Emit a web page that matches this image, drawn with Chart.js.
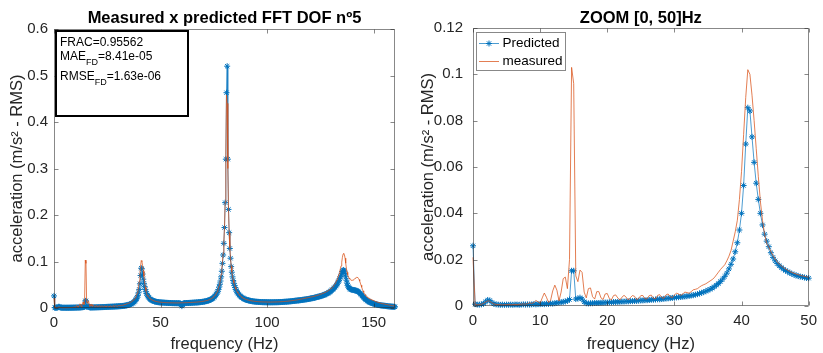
<!DOCTYPE html>
<html><head><meta charset="utf-8">
<script src="https://cdn.jsdelivr.net/npm/chart.js@4"></script>
<style>
html,body{margin:0;padding:0;background:#fff;}
#wrap{position:relative;width:823px;height:353px;overflow:hidden;background:#fff;}
canvas{position:absolute;top:0;}
</style></head><body>
<div id="wrap">
<canvas id="c1" width="411" height="353" style="left:0px"></canvas>
<canvas id="c2" width="412" height="353" style="left:411px"></canvas>
</div>
<script>
// ---- FFT bin spacing (Hz) ----
const binWidthHz = 0.3125;

// ---- Predicted spectrum, 0 .. 49.6875 Hz (16 bins per row = 5 Hz) ----
const predictedLow = [
0.026,0.0008,0.0006,0.0006,0.0007,0.001,0.0018,0.0026,0.0024,0.0015,0.0009,0.0007,0.0006,0.0005,0.0006,0.0005,
0.0006,0.0005,0.0006,0.0005,0.0006,0.0006,0.0005,0.0006,0.0007,0.0006,0.0007,0.0006,0.0007,0.0008,0.0007,0.0008,
0.0008,0.0009,0.0008,0.001,0.0009,0.0011,0.001,0.0012,0.0013,0.0015,0.0016,0.0018,0.002,0.0022,0.0028,0.0152,
0.0152,0.003,0.0032,0.0036,0.003,0.0018,0.0012,0.0011,0.0012,0.0012,0.0013,0.0013,0.0013,0.0014,0.0014,0.0015,
0.0015,0.0016,0.0016,0.0017,0.0017,0.0018,0.0018,0.0019,0.0019,0.002,0.002,0.0021,0.0021,0.0022,0.0022,0.0023,
0.0024,0.0024,0.0025,0.0025,0.0026,0.0027,0.0027,0.0028,0.0029,0.0029,0.003,0.0031,0.0032,0.0033,0.0034,0.0035,
0.0036,0.0037,0.0038,0.0039,0.004,0.0041,0.0042,0.0044,0.0045,0.0047,0.0049,0.0051,0.0054,0.0057,0.006,0.0064,
0.0068,0.0072,0.0077,0.0083,0.009,0.0097,0.0106,0.0116,0.0128,0.0142,0.016,0.018,0.0203,0.0234,0.0273,0.0328,
0.04,0.052,0.0699,0.0856,0.0842,0.073,0.062,0.053,0.046,0.04,0.035,0.031,0.028,0.0256,0.023,0.021,
0.0195,0.0183,0.0174,0.0166,0.0159,0.0153,0.0148,0.0143,0.0139,0.0135,0.0132,0.0129,0.0127,0.0125,0.0123,0.0121
];
// ---- Predicted spectrum, 50 .. 160 Hz ----
const predictedHigh = [
0.012,0.0119,0.0117,0.0116,0.0115,0.0114,0.0113,0.0112,0.0111,0.011,0.011,0.0109,0.0108,0.0108,0.0107,0.0107,
0.0106,0.0106,0.0105,0.0105,0.0105,0.0104,0.0104,0.0104,0.0104,0.0103,0.0103,0.0103,0.0103,0.0102,0.0095,0.0075,
0.004,0.0072,0.0096,0.0104,0.0105,0.0106,0.0106,0.0107,0.0107,0.0108,0.0108,0.0109,0.011,0.011,0.0111,0.0112,
0.0113,0.0114,0.0115,0.0116,0.0117,0.0118,0.0119,0.012,0.0121,0.0123,0.0124,0.0126,0.0127,0.0129,0.0131,0.0133,
0.0135,0.0137,0.014,0.0143,0.0146,0.0149,0.0153,0.0157,0.0162,0.0167,0.0173,0.0179,0.0187,0.0195,0.0205,0.0216,
0.0229,0.0243,0.026,0.028,0.0302,0.0328,0.036,0.04,0.045,0.051,0.058,0.067,0.079,0.096,0.114,0.139,
0.173,0.2266,0.32,0.463,0.52,0.32,0.212,0.162,0.128,0.107,0.089,0.077,0.067,0.059,0.053,0.048,
0.044,0.04,0.037,0.034,0.032,0.03,0.028,0.0265,0.025,0.0238,0.0227,0.0217,0.0208,0.02,0.0193,0.0187,
0.0181,0.0176,0.0171,0.0167,0.0163,0.0159,0.0156,0.0153,0.015,0.0147,0.0145,0.0143,0.0141,0.0139,0.0137,0.0136,
0.0134,0.0133,0.0132,0.0131,0.013,0.0129,0.0128,0.0128,0.0127,0.0126,0.0126,0.0125,0.0125,0.0125,0.0124,0.0124,
0.0124,0.0124,0.0123,0.0123,0.0123,0.0123,0.0123,0.0123,0.0123,0.0124,0.0124,0.0124,0.0124,0.0125,0.0125,0.0125,
0.0126,0.0126,0.0127,0.0127,0.0128,0.0129,0.0129,0.013,0.0131,0.0132,0.0133,0.0134,0.0135,0.0136,0.0137,0.0138,
0.014,0.0141,0.0143,0.0144,0.0146,0.0147,0.0149,0.015,0.0152,0.0153,0.0155,0.0157,0.0158,0.016,0.0162,0.0163,
0.0165,0.0167,0.0169,0.0171,0.0173,0.0175,0.0177,0.0179,0.0181,0.0183,0.0185,0.0187,0.019,0.0192,0.0194,0.0197,
0.02,0.0203,0.0206,0.0209,0.0212,0.0215,0.0218,0.0221,0.0225,0.0228,0.0232,0.0236,0.024,0.0243,0.0247,0.0251,
0.0255,0.0259,0.0264,0.0269,0.0274,0.0279,0.0285,0.0291,0.0297,0.0304,0.0311,0.0319,0.0327,0.0335,0.0344,0.0354,
0.037,0.0381,0.0393,0.0406,0.042,0.0436,0.0452,0.047,0.049,0.0513,0.0538,0.0566,0.0596,0.063,0.0667,0.0706,
0.0745,0.0785,0.0812,0.0818,0.0795,0.0745,0.0672,0.0598,0.0535,0.0488,0.0455,0.0432,0.0417,0.0406,0.0399,0.0394,
0.0391,0.0389,0.0386,0.0383,0.038,0.0376,0.0371,0.0365,0.0358,0.0349,0.0338,0.0325,0.031,0.0294,0.0277,0.026,
0.0243,0.0226,0.021,0.0196,0.0183,0.0171,0.016,0.015,0.0141,0.0133,0.0126,0.0119,0.0113,0.0108,0.0103,0.0098,
0.0094,0.0089,0.0085,0.0081,0.0077,0.0074,0.007,0.0067,0.0064,0.0062,0.0059,0.0057,0.0055,0.0053,0.0051,0.005,
0.0048,0.0046,0.0044,0.0042,0.004,0.0038,0.0036,0.0035,0.0033,0.0032,0.003,0.0029,0.0028,0.0027,0.0026,0.0025,
0.0024
];
// ---- Measured spectrum, 0 .. 49.6875 Hz ----
const measuredLow = [
0.021,0.0006,0.0005,0.0006,0.0008,0.0011,0.0017,0.0022,0.0021,0.0014,0.0009,0.0007,0.0006,0.0006,0.0005,0.0006,
0.0006,0.0007,0.0006,0.0006,0.0007,0.0006,0.0007,0.0008,0.0009,0.0008,0.001,0.0014,0.0011,0.0015,0.0024,0.0018,
0.0012,0.0035,0.0056,0.0038,0.0015,0.0025,0.0065,0.009,0.0068,0.0022,0.006,0.0118,0.0125,0.0075,0.02,0.103,
0.096,0.013,0.0105,0.0155,0.0145,0.006,0.0035,0.0075,0.0078,0.004,0.003,0.0062,0.0062,0.0035,0.0028,0.0052,
0.0054,0.0032,0.0027,0.0045,0.0048,0.0035,0.0026,0.0038,0.0046,0.0038,0.0026,0.0036,0.0045,0.0042,0.0027,0.0033,
0.0045,0.0045,0.003,0.0031,0.0045,0.0047,0.0033,0.0031,0.0046,0.0049,0.0036,0.0033,0.0048,0.0052,0.004,0.0036,
0.0048,0.0055,0.0052,0.0046,0.0052,0.006,0.0058,0.0055,0.0062,0.007,0.0072,0.0075,0.0082,0.0088,0.0092,0.0096,
0.0102,0.0108,0.0114,0.0122,0.0134,0.0146,0.0158,0.0168,0.0178,0.0195,0.0215,0.024,0.028,0.032,0.037,0.046,
0.058,0.074,0.09,0.102,0.1,0.091,0.08,0.068,0.056,0.045,0.037,0.031,0.027,0.0255,0.0235,0.0218,
0.0203,0.0191,0.0181,0.0173,0.0166,0.016,0.0154,0.0149,0.0145,0.0141,0.0138,0.0135,0.0132,0.013,0.0128,0.0126
];
// ---- Measured spectrum, 50 .. 160 Hz ----
const measuredHigh = [
0.0124,0.0123,0.0121,0.012,0.0119,0.0118,0.0117,0.0116,0.0116,0.0115,0.0114,0.0114,0.0113,0.0113,0.0112,0.0112,
0.0112,0.0111,0.0111,0.0111,0.011,0.011,0.011,0.011,0.011,0.011,0.011,0.011,0.011,0.0111,0.0111,0.0111,
0.0112,0.0112,0.0112,0.0113,0.0113,0.0114,0.0114,0.0115,0.0115,0.0116,0.0117,0.0117,0.0118,0.0119,0.012,0.012,
0.0121,0.0122,0.0123,0.0124,0.0125,0.0126,0.0127,0.0129,0.013,0.0131,0.0133,0.0135,0.0136,0.0138,0.014,0.0142,
0.0145,0.0147,0.015,0.0153,0.0156,0.016,0.0164,0.0168,0.0173,0.0179,0.0185,0.0192,0.02,0.0209,0.022,0.0232,
0.0245,0.026,0.0277,0.0298,0.0322,0.035,0.0385,0.0428,0.048,0.054,0.062,0.072,0.085,0.1,0.118,0.142,
0.175,0.228,0.33,0.458,0.44,0.3,0.215,0.163,0.13,0.108,0.09,0.078,0.068,0.06,0.054,0.049,
0.045,0.041,0.0378,0.0348,0.0327,0.0306,0.0286,0.027,0.0255,0.0243,0.0232,0.0222,0.0213,0.0205,0.0198,0.0192,
0.0186,0.0181,0.0176,0.0172,0.0168,0.0164,0.0161,0.0158,0.0155,0.0152,0.015,0.0148,0.0146,0.0144,0.0142,0.0141,
0.0139,0.0138,0.0137,0.0136,0.0135,0.0134,0.0133,0.0133,0.0132,0.0131,0.0131,0.013,0.013,0.013,0.0129,0.0129,
0.0129,0.0129,0.0128,0.0128,0.0128,0.0128,0.0128,0.0128,0.0129,0.0129,0.0129,0.013,0.013,0.013,0.0131,0.0131,
0.0132,0.0132,0.0133,0.0134,0.0135,0.0136,0.0136,0.0137,0.0138,0.0139,0.014,0.0142,0.0143,0.0144,0.0145,0.0147,
0.0148,0.015,0.0152,0.0154,0.0156,0.0158,0.016,0.0162,0.0164,0.0166,0.0168,0.017,0.0173,0.0175,0.0177,0.018,
0.0183,0.0186,0.0189,0.0192,0.0195,0.0198,0.0201,0.0204,0.0207,0.021,0.0213,0.0216,0.0219,0.0222,0.0225,0.0228,
0.023,0.0233,0.0236,0.024,0.0243,0.0246,0.025,0.0254,0.0258,0.0262,0.0266,0.027,0.0275,0.028,0.0285,0.029,
0.0295,0.03,0.0305,0.0311,0.0317,0.0323,0.033,0.0337,0.0344,0.0352,0.036,0.0369,0.0378,0.0388,0.0398,0.0409,
0.042,0.0434,0.0449,0.0465,0.0483,0.0503,0.0525,0.055,0.0578,0.061,0.0647,0.0688,0.0735,0.0788,0.0845,0.0905,
0.0985,0.1085,0.1158,0.1176,0.1148,0.1072,0.0965,0.0855,0.077,0.0712,0.0672,0.0645,0.0625,0.061,0.0601,0.0596,
0.0596,0.0601,0.061,0.0622,0.0636,0.0648,0.0657,0.066,0.0654,0.0638,0.0612,0.0577,0.0535,0.049,0.0446,0.0405,
0.0368,0.0336,0.0309,0.0286,0.0267,0.0251,0.0237,0.0225,0.0214,0.0205,0.0197,0.0189,0.0182,0.0176,0.017,0.0165,
0.016,0.0153,0.0146,0.014,0.0134,0.0128,0.0123,0.0118,0.0113,0.0109,0.0105,0.0101,0.0097,0.0094,0.0091,0.0088,
0.0085,0.0082,0.0079,0.0076,0.0073,0.007,0.0067,0.0064,0.0061,0.0058,0.0055,0.0053,0.005,0.0048,0.0046,0.0044,
0.0042
];

// ---- Text ----
const seriesNames = ['Predicted', 'measured'];
const leftTitle = 'Measured x predicted FFT DOF nº5';
const rightTitle = 'ZOOM [0, 50]Hz';
const xAxisLabel = 'frequency (Hz)';
const yAxisLabel = 'acceleration (m/s² - RMS)';
const statNames = ['FRAC', 'MAE', 'RMSE'];
const statSubs = ['', 'FD', 'FD'];
const statValues = ['0.95562', '8.41e-05', '1.63e-06'];

// ---- Axis ranges / tick steps ----
const leftX = [0, 160, 50], leftY = [0, 0.6, 0.1];
const rightX = [0, 50, 10], rightY = [0, 0.12, 0.02];

const predicted = predictedLow.concat(predictedHigh);
const measured = measuredLow.concat(measuredHigh);
const frequency = predicted.map((_, i) => i * binWidthHz);

const FONT = '"Liberation Sans", Arial, Helvetica, sans-serif';
const TXT = '#262626';
const AXIS = 'rgba(38,38,38,0.55)';
const BLUE = '#0072BD';

function pts(vals, maxF) {
  return frequency.map((f, i) => ({x: f, y: vals[i]})).filter(p => p.x <= maxF + 1e-9);
}

function drawStar(ctx, x, y, r) {
  const d = r * Math.SQRT1_2;
  ctx.moveTo(x - r, y); ctx.lineTo(x + r, y);
  ctx.moveTo(x, y - r); ctx.lineTo(x, y + r);
  ctx.moveTo(x - d, y - d); ctx.lineTo(x + d, y + d);
  ctx.moveTo(x - d, y + d); ctx.lineTo(x + d, y - d);
}

function drawStats(ctx) {
  ctx.fillStyle = '#fff';
  ctx.fillRect(55, 30, 134, 87);
  ctx.strokeStyle = '#000'; ctx.lineWidth = 2;
  ctx.strokeRect(56, 31, 132, 85);
  ctx.fillStyle = '#000'; ctx.textAlign = 'left'; ctx.textBaseline = 'alphabetic';
  const base = [45.5, 59.5, 80];
  statNames.forEach((n, i) => {
    let x = 60;
    ctx.font = '12px ' + FONT; ctx.fillText(n, x, base[i]); x += ctx.measureText(n).width;
    if (statSubs[i]) {
      ctx.font = '9px ' + FONT; ctx.fillText(statSubs[i], x, base[i] + 5); x += ctx.measureText(statSubs[i]).width;
    }
    ctx.font = '12px ' + FONT; ctx.fillText('=' + statValues[i], x, base[i]);
  });
}

function drawLegend(chart, ctx) {
  const x0 = 65.5, y0 = 32.5, w = 89, h = 38;
  ctx.fillStyle = '#fff'; ctx.fillRect(x0, y0, w, h);
  ctx.strokeStyle = AXIS; ctx.lineWidth = 1; ctx.strokeRect(x0, y0, w, h);
  const rows = [43.5, 61.5];
  chart.data.datasets.forEach((ds, i) => {
    const y = rows[i];
    ctx.beginPath();
    ctx.strokeStyle = ds.borderColor; ctx.lineWidth = 1;
    ctx.moveTo(68, y); ctx.lineTo(88, y); ctx.stroke();
    if (ds.pointRadius > 0) {
      ctx.beginPath(); ctx.strokeStyle = BLUE; drawStar(ctx, 78, y, 3); ctx.stroke();
    }
    ctx.fillStyle = '#000'; ctx.font = '13.5px ' + FONT;
    ctx.textAlign = 'left'; ctx.textBaseline = 'middle';
    ctx.fillText(ds.label, 91.5, y);
  });
}

const decor = {
  id: 'decor',
  afterDraw(chart, args, o) {
    const ctx = chart.ctx, a = chart.chartArea, xs = chart.scales.x, ys = chart.scales.y;
    ctx.save();
    const L = Math.round(a.left) + 0.5, R = Math.round(a.right) - 0.5;
    const T = Math.round(a.top) + 0.5, B = Math.round(a.bottom) - 0.5;
    ctx.strokeStyle = AXIS; ctx.lineWidth = 1;
    ctx.beginPath();
    ctx.rect(L, T, R - L, B - T);
    xs.ticks.forEach(t => {
      const p = Math.round(xs.getPixelForValue(t.value)) + 0.5;
      ctx.moveTo(p, B); ctx.lineTo(p, B - 4); ctx.moveTo(p, T); ctx.lineTo(p, T + 4);
    });
    ys.ticks.forEach(t => {
      const p = Math.round(ys.getPixelForValue(t.value)) + 0.5;
      ctx.moveTo(L, p); ctx.lineTo(L + 4, p); ctx.moveTo(R, p); ctx.lineTo(R - 4, p);
    });
    ctx.stroke();
    ctx.fillStyle = '#000'; ctx.font = 'bold 16.5px ' + FONT;
    ctx.textAlign = 'center'; ctx.textBaseline = 'alphabetic';
    ctx.fillText(o.title, (a.left + a.right) / 2, o.titleY);
    if (o.stats) drawStats(ctx);
    if (o.legend) drawLegend(chart, ctx);
    ctx.restore();
  }
};

function makeChart(id, xr, yr, cfg) {
  const maxF = xr[1];
  return new Chart(document.getElementById(id), {
    type: 'line',
    data: {
      datasets: [
        {label: seriesNames[0], data: pts(predicted, maxF), borderColor: 'rgba(0,114,189,0.7)', borderWidth: 1,
         pointStyle: 'star', pointRadius: 3, pointBorderColor: BLUE, pointBackgroundColor: BLUE, pointBorderWidth: 1,
         tension: 0, order: 1, clip: false},
        {label: seriesNames[1], data: pts(measured, maxF), borderColor: 'rgba(217,83,25,0.75)', borderWidth: 1,
         pointRadius: 0, tension: 0, order: 0, clip: false}
      ]
    },
    options: {
      responsive: false, animation: false, devicePixelRatio: 1, events: [],
      parsing: false, normalized: true,
      layout: {padding: {top: cfg.top, right: cfg.right, left: 0, bottom: 0}},
      plugins: {
        legend: {display: false}, tooltip: {enabled: false}, title: {display: false},
        decor: {title: cfg.title, titleY: 23, stats: cfg.stats, legend: cfg.legend}
      },
      scales: {
        x: {
          type: 'linear', min: xr[0], max: xr[1],
          ticks: {stepSize: xr[2], includeBounds: false, color: TXT, font: {family: FONT, size: 15}, padding: cfg.xPad, maxRotation: 0, autoSkip: false},
          grid: {display: false, drawTicks: false}, border: {display: false},
          title: {display: true, text: xAxisLabel, color: TXT, font: {family: FONT, size: 16.5, lineHeight: 1}, padding: {top: 0, bottom: 0}},
          afterFit(s) { s.height = cfg.xH; }
        },
        y: {
          type: 'linear', min: yr[0], max: yr[1],
          ticks: {stepSize: yr[2], color: TXT, font: {family: FONT, size: 15}, padding: cfg.yPad,
                  callback: v => String(Math.round(v * 100) / 100)},
          grid: {display: false, drawTicks: false}, border: {display: false},
          title: {display: true, text: yAxisLabel, color: TXT, font: {family: FONT, size: 16.5, lineHeight: 1}, padding: {top: 9, bottom: 0}},
          afterFit(s) { s.width = cfg.yW; }
        }
      }
    },
    plugins: [decor]
  });
}

makeChart('c1', leftX, leftY, {top: 29, right: 16, xH: 45, yW: 54, xPad: 5.5, yPad: 6, title: leftTitle, stats: true, legend: false});
makeChart('c2', rightX, rightY, {top: 28, right: 10, xH: 47, yW: 62, xPad: 6, yPad: 10, title: rightTitle, stats: false, legend: true});
</script>
</body></html>
